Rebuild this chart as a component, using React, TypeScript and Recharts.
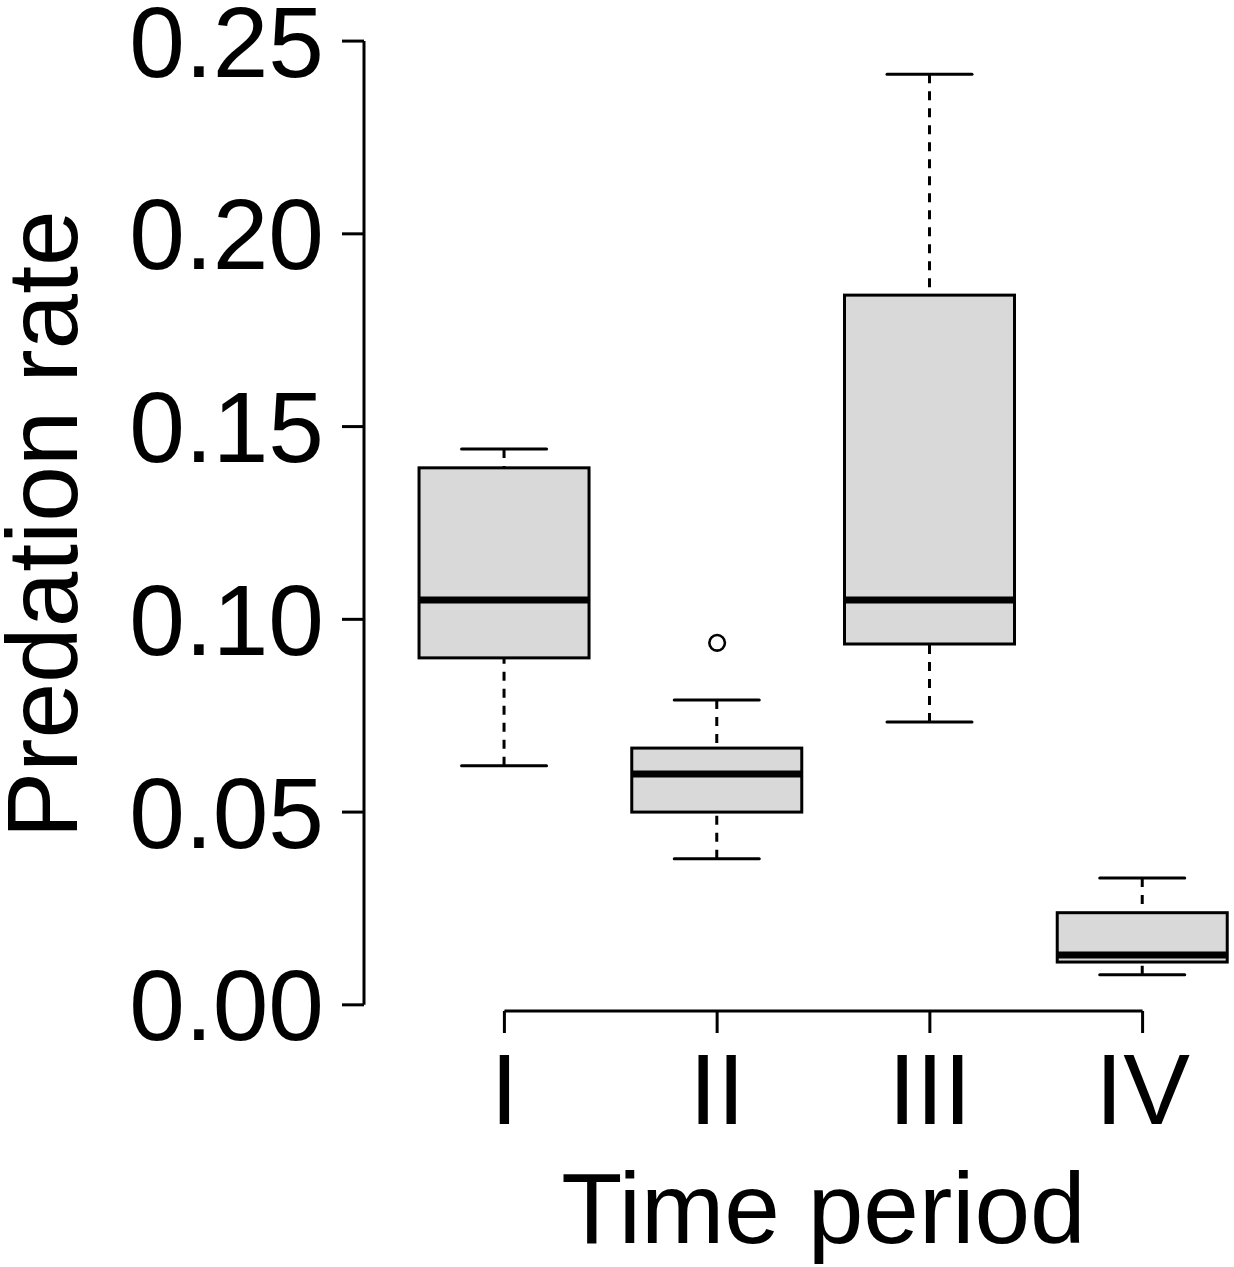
import React from 'react';
import { ComposedChart, Bar, Scatter, XAxis, YAxis, ReferenceLine } from 'recharts';

// ---- data ----
const categories = ['I', 'II', 'III', 'IV'];
const whiskerLow = [0.062, 0.0379, 0.0734, 0.0078];
const quart1 = [0.09, 0.05, 0.0936, 0.0111];
const medians = [0.105, 0.0599, 0.105, 0.0129];
const quart3 = [0.1393, 0.0666, 0.1841, 0.0239];
const whiskerHigh = [0.1442, 0.0791, 0.2414, 0.0329];
const outlierGroups = ['II'];
const outlierValues = [0.0939];
const yTicks = [0, 0.05, 0.1, 0.15, 0.2, 0.25];
const xTicks = [1, 2, 3, 4];
const yDomain = [-0.0016, 0.2508];
const xDomain = [0.34, 4.66];

const FONT = '"Liberation Sans", Arial, Helvetica, sans-serif';

const rows = categories.map((c, i) => ({
  x: i + 1,
  name: c,
  lo: whiskerLow[i],
  q1: quart1[i],
  med: medians[i],
  q3: quart3[i],
  hi: whiskerHigh[i],
  range: [whiskerLow[i], whiskerHigh[i]],
}));

const outliers = outlierGroups.map((g, i) => ({
  x: categories.indexOf(g) + 1,
  y: outlierValues[i],
}));

const BoxShape = (props: any) => {
  const { x, y, width, height, payload } = props;
  if (x == null || y == null || !payload) return null;
  const top = Math.min(y, y + height);
  const h = Math.abs(height);
  const { lo, q1, med, q3, hi } = payload;
  const py = (v: number) => top + ((hi - v) / (hi - lo)) * h;
  const cx = x + width / 2;
  const capHalf = width / 4;
  return (
    <g>
      <line x1={cx} x2={cx} y1={py(hi)} y2={py(q3)} stroke="#000" strokeWidth={3} strokeDasharray="9 8" />
      <line x1={cx} x2={cx} y1={py(lo)} y2={py(q1)} stroke="#000" strokeWidth={3} strokeDasharray="9 8" />
      <line x1={cx - capHalf} x2={cx + capHalf} y1={py(hi)} y2={py(hi)} stroke="#000" strokeWidth={3} strokeLinecap="round" />
      <line x1={cx - capHalf} x2={cx + capHalf} y1={py(lo)} y2={py(lo)} stroke="#000" strokeWidth={3} strokeLinecap="round" />
      <rect x={x} y={py(q3)} width={width} height={py(q1) - py(q3)} fill="#D9D9D9" stroke="#000" strokeWidth={3} />
      <line x1={x} x2={x + width} y1={py(med)} y2={py(med)} stroke="#000" strokeWidth={7} />
    </g>
  );
};

const OutlierShape = (props: any) => {
  const { cx, cy } = props;
  if (cx == null || cy == null) return null;
  return <circle cx={cx} cy={cy} r={7.8} fill="none" stroke="#000" strokeWidth={2.6} />;
};

const YTitle = (props: any) => {
  const vb = props.viewBox || { x: 0, y: 38, width: 364, height: 973 };
  const cy = vb.y + vb.height / 2;
  const bx = 77;
  return (
    <text
      x={bx}
      y={cy}
      transform={`rotate(-90, ${bx}, ${cy})`}
      textAnchor="middle"
      fontSize={100}
      fontFamily={FONT}
      fill="#000"
    >
      Predation rate
    </text>
  );
};

const XTitle = (props: any) => {
  const vb = props.viewBox || { x: 364, y: 1011, width: 919, height: 256 };
  return (
    <text
      x={vb.x + vb.width / 2}
      y={1243}
      textAnchor="middle"
      fontSize={100}
      fontFamily={FONT}
      fill="#000"
    >
      Time period
    </text>
  );
};

export default function App() {
  return (
    <div
      style={{
        position: 'absolute',
        left: 0,
        top: 0,
        width: 1234,
        height: 1267,
        overflow: 'hidden',
        background: '#fff',
      }}
    >
      <ComposedChart
        width={1300}
        height={1267}
        data={rows}
        margin={{ top: 38, right: 17, bottom: 0, left: 0 }}
        style={{ fontFamily: FONT }}
      >
        <XAxis
          dataKey="x"
          type="number"
          domain={xDomain}
          ticks={xTicks}
          interval={0}
          allowDataOverflow
          tickFormatter={(v: number) => categories[v - 1] ?? ''}
          axisLine={false}
          tickLine={{ stroke: '#000', strokeWidth: 3 }}
          tickSize={22}
          tickMargin={20}
          height={256}
          tick={{ fontSize: 100, fill: '#000', fontFamily: FONT }}
          label={{ content: <XTitle /> }}
        />
        <YAxis
          type="number"
          domain={yDomain}
          ticks={yTicks}
          interval={0}
          allowDataOverflow
          tickFormatter={(v: number) => v.toFixed(2)}
          axisLine={false}
          tickLine={{ stroke: '#000', strokeWidth: 3 }}
          tickSize={22}
          tickMargin={18}
          width={364}
          tick={{ fontSize: 100, fill: '#000', fontFamily: FONT }}
          label={{ content: <YTitle /> }}
        />
        <ReferenceLine
          segment={[{ x: xDomain[0], y: 0 }, { x: xDomain[0], y: 0.25 }]}
          stroke="#000"
          strokeWidth={3}
          ifOverflow="visible"
        />
        <ReferenceLine
          segment={[{ x: 1, y: yDomain[0] }, { x: 4, y: yDomain[0] }]}
          stroke="#000"
          strokeWidth={3}
          ifOverflow="visible"
        />
        <Bar dataKey="range" barSize={170} shape={<BoxShape />} isAnimationActive={false} />
        <Scatter data={outliers} dataKey="y" shape={<OutlierShape />} isAnimationActive={false} />
      </ComposedChart>
    </div>
  );
}
